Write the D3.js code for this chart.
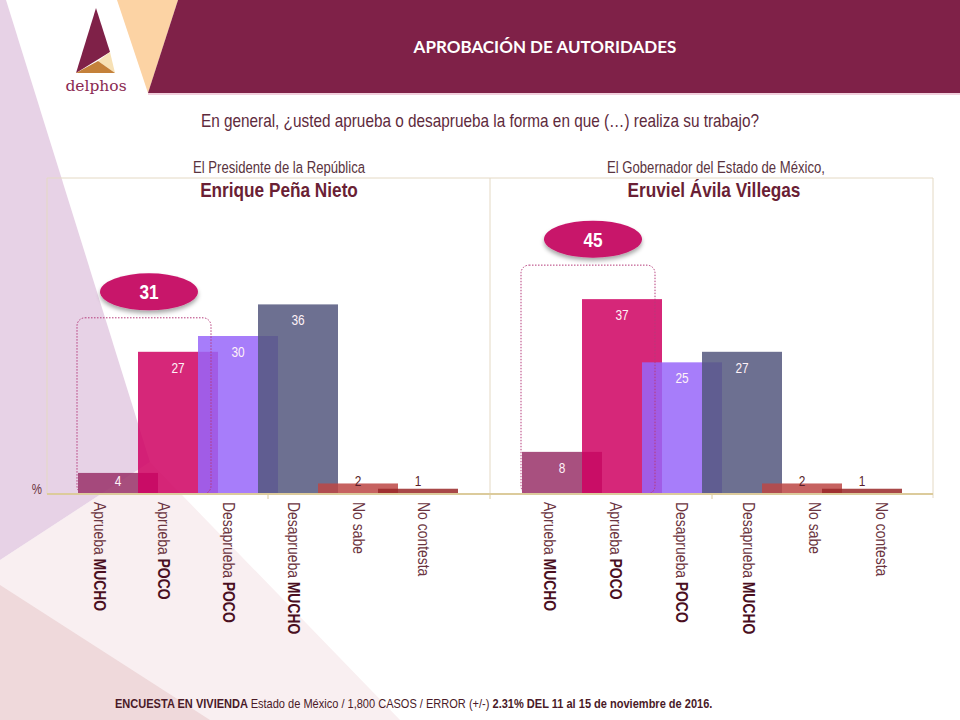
<!DOCTYPE html>
<html><head><meta charset="utf-8">
<script src="https://cdn.jsdelivr.net/npm/d3@7"></script>
<style>body{margin:0;background:#fff}svg{display:block}</style>
</head><body><svg id="c" width="960" height="720"></svg>
<script>
// ---------- DATA ----------
const categories = ["Aprueba MUCHO","Aprueba POCO","Desaprueba POCO","Desaprueba MUCHO","No sabe","No contesta"];
const labelMain  = ["Aprueba","Aprueba","Desaprueba","Desaprueba","No sabe","No contesta"];
const labelBold  = ["MUCHO","POCO","POCO","MUCHO","",""];
const presidenteValues = [4,27,30,36,2,1];
const gobernadorValues = [8,37,25,27,2,1];
const panelRoles = ["El Presidente de la República","El Gobernador del Estado de México,"];
const panelNames = ["Enrique Peña Nieto","Eruviel Ávila Villegas"];
const chartTitle = "APROBACIÓN DE AUTORIDADES";
const question = "En general, ¿usted aprueba o desaprueba la forma en que (…) realiza su trabajo?";
const footerParts = ["ENCUESTA EN VIVIENDA ", "Estado de México /  1,800 CASOS / ERROR (+/-) ", "2.31% DEL 11 al 15 de noviembre de 2016."];
const yDomain = [0, 60];

// ---------- STYLE ----------
const barColors = ["#993168","#cf0162","#9866f9","#54577e","#bc4644","#992828"];
const SANS = "'Liberation Sans',Arial,sans-serif";
const NS = 0.82; // narrow horizontal scale
const maroon = "#7f2148";

const svg = d3.select("#c");
const defs = svg.append("defs");
const f = defs.append("filter").attr("id","sh").attr("x","-20%").attr("y","-30%").attr("width","140%").attr("height","170%");
f.append("feDropShadow").attr("dx",0).attr("dy",3).attr("stdDeviation",2).attr("flood-color","#000").attr("flood-opacity",0.35);

function ntext(parent, x, y, size, fill, anchor, weight, extra, sx) {
  return parent.append("text")
    .attr("transform", `translate(${x},${y})${extra||""} scale(${sx||NS},1)`)
    .attr("font-family", SANS).attr("font-size", size).attr("fill", fill)
    .attr("text-anchor", anchor || "start").attr("font-weight", weight || "normal");
}

// background decoration
const bg = svg.append("g");
bg.append("rect").attr("width",960).attr("height",720).attr("fill","#fff");
bg.append("path").attr("d","M0,560 L150,462 L400,720 L0,720Z").attr("fill","#f9eff1");
bg.append("path").attr("d","M0,585 L210,720 L0,720Z").attr("fill","#efd9db");
bg.append("path").attr("d","M0,0 L6,0 L150,462 L0,560Z").attr("fill","#e7d2e6");

// header
bg.append("path").attr("d","M117,0 L178,0 L148,93Z").attr("fill","#fcd3a4");
bg.append("path").attr("d","M178,0 L960,0 L960,93 L148,93Z").attr("fill",maroon);
bg.append("rect").attr("x",148).attr("y",93).attr("width",812).attr("height",2).attr("fill","#f1cfdc");
svg.append("text").attr("x",545).attr("y",53).attr("text-anchor","middle")
  .attr("font-family","Lato,'Open Sans',sans-serif").attr("font-weight","bold").attr("font-size",17)
  .attr("fill","#fff").text(chartTitle);

// logo
const logo = svg.append("g");
logo.append("path").attr("d","M96,8 L110,52 L76,73Z").attr("fill",maroon);
logo.append("path").attr("d","M110,52 L115,73 L98,61Z").attr("fill","#f7e1b5");
logo.append("path").attr("d","M76,73 L115,73 L98,61Z").attr("fill","#c4813a");
logo.append("text").attr("x",96).attr("y",91).attr("text-anchor","middle")
  .attr("font-family","'DejaVu Serif','Liberation Serif',serif").attr("font-size",15.5)
  .attr("fill","#8a2a52").text("delphos");

// question
ntext(svg, 480, 127, 18.7, "#5e2a3c", "middle").text(question);

// ---------- CHART ----------
const baseY = 494, topY = 178;
const y = d3.scaleLinear().domain(yDomain).range([baseY, topY]);
const frameX = [47, 490, 933];
const fr = svg.append("g");
fr.append("line").attr("x1",frameX[0]).attr("x2",frameX[2]).attr("y1",topY).attr("y2",topY).attr("stroke","#e4d9c4");
frameX.forEach(x => fr.append("line").attr("x1",x).attr("x2",x).attr("y1",topY).attr("y2",x===933?498:baseY).attr("stroke","#e4d9c4"));

const panels = [
  {values: presidenteValues, barRange:[118,418], labelRange:[98,422], titleX:279, nameX:279},
  {values: gobernadorValues, barRange:[562,862], labelRange:[548,880], titleX:716, nameX:714}
];
const barW = 80;

panels.forEach((p, pi) => {
  const g = svg.append("g");
  const xb = d3.scalePoint().domain(categories).range(p.barRange);
  const xl = d3.scalePoint().domain(categories).range(p.labelRange);
  const data = categories.map((c,i) => ({c, v:p.values[i], i}));

  ntext(g, p.titleX, 173, 16, "#5a3440", "middle").text(panelRoles[pi]);
  ntext(g, p.nameX, 197, 21, "#6a1f35", "middle", "bold").text(panelNames[pi]);

  g.selectAll("rect.bar").data(data).join("rect").attr("class","bar")
    .attr("x",d => xb(d.c) - barW/2).attr("width",barW)
    .attr("y",d => y(d.v)).attr("height",d => baseY - y(d.v))
    .attr("fill",d => barColors[d.i]).attr("fill-opacity",0.85);

  g.selectAll("text.val").data(data).join("text").attr("class","val")
    .attr("transform",d => `translate(${xb(d.c)},${Math.min(y(d.v)+21, 486)}) scale(${NS},1)`)
    .attr("text-anchor","middle").attr("font-family",SANS).attr("font-size",14.5)
    .attr("fill",d => d.v >= 4 ? "#fff2f7" : "#5a1e2a").text(d => d.v);

  // category labels (rotated)
  data.forEach(d => {
    const t = ntext(g, xl(d.c), 502, 17, "#6b3440", "start", "normal", " rotate(90)")
      .attr("dominant-baseline","middle");
    t.append("tspan").text(labelMain[d.i] + (labelBold[d.i] ? " " : ""));
    if (labelBold[d.i]) t.append("tspan").attr("fill","#4a0f1f").attr("font-weight","bold").text(labelBold[d.i]);
  });

  // approval group annotation
  const total = p.values[0] + p.values[1];
  const rx0 = xb(categories[0]) - barW/2 - 1, rx1 = xb(categories[1]) + barW/2 - 7;
  const rTop = y(Math.max(p.values[0], p.values[1])) - 34;
  g.append("rect").attr("x",rx0).attr("y",rTop).attr("width",rx1-rx0).attr("height",baseY-rTop)
    .attr("rx",8).attr("fill","none").attr("stroke","#b53a7a").attr("stroke-width",1).attr("stroke-dasharray","1.5,1.5");
  const cx = (rx0+rx1)/2 + 5, cy = rTop - 26;
  g.append("ellipse").attr("cx",cx).attr("cy",cy).attr("rx",49).attr("ry",18.5)
    .attr("fill","#c8166a").attr("filter","url(#sh)");
  ntext(g, cx, cy+7.5, 21, "#fff", "middle", "bold").text(total);
});

// baseline + ticks
svg.append("line").attr("x1",frameX[0]).attr("x2",frameX[2]).attr("y1",baseY).attr("y2",baseY).attr("stroke","#dccb9c").attr("stroke-width",2);
[268, 490, 712].forEach(x => svg.append("line").attr("x1",x).attr("x2",x).attr("y1",baseY).attr("y2",baseY+5).attr("stroke","#dccb9c"));
ntext(svg, 42, 494, 14, "#6b3440", "end").text("%");

// footer (scaled horizontally to fit its span)
const ft = svg.append("text").attr("font-family",SANS).attr("font-size",12.5).attr("fill","#4a1a28");
ft.append("tspan").attr("font-weight","bold").text(footerParts[0]);
ft.append("tspan").text(footerParts[1]);
ft.append("tspan").attr("font-weight","bold").text(footerParts[2]);
const fw = ft.node().getComputedTextLength();
ft.attr("transform", `translate(115,708) scale(${598/fw},1)`);
</script></body></html>
